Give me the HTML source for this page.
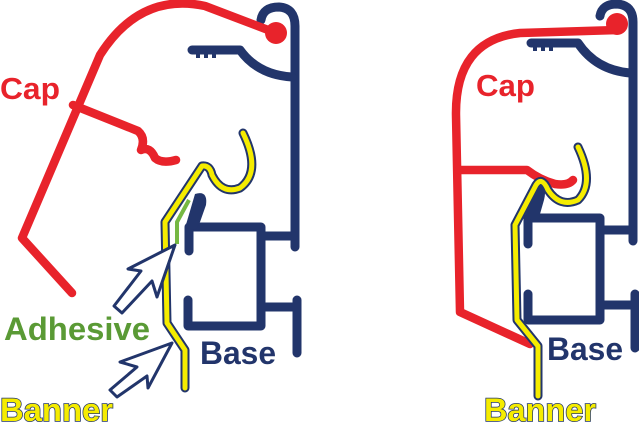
<!DOCTYPE html>
<html><head><style>
html,body{margin:0;padding:0;background:#fff;width:639px;height:424px;overflow:hidden}
svg{display:block}
text{font-family:"Liberation Sans",Arial,sans-serif;font-weight:bold}
</style></head><body>
<svg width="639" height="424" viewBox="0 0 639 424" xmlns="http://www.w3.org/2000/svg">
<g fill="none" stroke-linecap="round" stroke-linejoin="round">
<!-- LEFT BASE -->
<g stroke="#22356b" stroke-width="9">
<path d="M261,20 Q263,7 279,7 Q295,8 295,26 L295,247"/>
<path d="M192,50 L240,50 Q258,75 292,77"/>
<path d="M190,227 L261,227 L261,326 L188,326 L188,300"/>
<path d="M189,227 L189,251"/>
<path d="M261,236 L293,236"/>
<path d="M261,307 L296,307 M297,300 L297,353"/>
</g>
<path d="M185,228 L195,194 Q208,190 206,205 L200,222 L196,230 Z" fill="#22356b"/>
<g fill="#22356b"><rect x="196" y="53" width="4" height="5"/><rect x="204" y="53" width="4" height="5"/><rect x="212" y="53" width="4" height="5"/></g>
<!-- LEFT CAP -->
<g stroke="#e8232b" stroke-width="8.5">
<path d="M276,33 L205,6 Q140,-8 100,55 L22,238 L72,293"/>
<path d="M73,105 L138,131 Q146,138 141,150 Q150,146 155,158 Q162,164 176,160"/>
</g>
<circle cx="276" cy="33" r="11" fill="#e8232b"/>
<!-- LEFT BANNER -->
<path d="M185,388 L185,350 L167,323 L165,222 L202,166 Q210,165 212,175 Q222,195 240,188 Q262,172 243,133" stroke="#22356b" stroke-width="9"/>
<path d="M185,388 L185,350 L167,323 L165,222 L202,166 Q210,165 212,175 Q222,195 240,188 Q262,172 243,133" stroke="#f5ec00" stroke-width="5"/>
<path d="M189,200 L177,222 L177,244" stroke="#76b843" stroke-width="4" stroke-linecap="butt"/>
<!-- ARROWS -->
<g stroke="#22356b" stroke-width="3" fill="#fff">
<path d="M175,245 L128,269 L141,271 L114,306 L122,313 L152,281 L157,297 Z"/>
<path d="M172,343 L120,362 L137,367 L110,390 L117,397 L147,376 L148,388 Z"/>
</g>
<!-- RIGHT BASE -->
<g stroke="#22356b" stroke-width="9">
<path d="M600,16 Q602,4 617,4 Q633,5 633,22 L633,241"/>
<path d="M531,43 L578,43 Q596,70 630,73"/>
<path d="M529,218 L600,218 L600,320 L528,320 L528,294"/>
<path d="M528,218 L528,244"/>
<path d="M600,230 L632,230"/>
<path d="M600,305 L634,305 M635,294 L635,348"/>
</g>
<path d="M524,219 L536,185 Q548,184 544,200 L538,221 Z" fill="#22356b"/>
<g fill="#22356b"><rect x="533" y="46" width="4" height="5"/><rect x="541" y="46" width="4" height="5"/><rect x="549" y="46" width="4" height="5"/></g>
<!-- RIGHT CAP -->
<g stroke="#e8232b" stroke-width="8.5">
<path d="M618,30 L520,33 Q455,40 456,115 L460,312 L530,344"/>
<path d="M459,170 L527,170 Q540,180 555,184 Q568,186 573,180"/>
</g>
<circle cx="617" cy="24" r="11" fill="#e8232b"/>
<!-- RIGHT BANNER -->
<path d="M538,396 L538,346 L517,320 L515,225 L536,185 Q542,176 548,190 Q560,208 578,200 Q595,183 578,147" stroke="#22356b" stroke-width="9"/>
<path d="M538,396 L538,346 L517,320 L515,225 L536,185 Q542,176 548,190 Q560,208 578,200 Q595,183 578,147" stroke="#f5ec00" stroke-width="5"/>
</g>
<!-- LABELS -->
<text x="0" y="99" font-size="31" fill="#e8232b" textLength="60" lengthAdjust="spacingAndGlyphs">Cap</text>
<text x="4" y="340" font-size="32" fill="#5a9a35" textLength="146" lengthAdjust="spacingAndGlyphs">Adhesive</text>
<text x="200" y="364" font-size="32" fill="#22356b" textLength="76" lengthAdjust="spacingAndGlyphs">Base</text>
<text x="0" y="421" font-size="32" fill="#f5ec00" stroke="#22356b" stroke-width="1.5" paint-order="stroke" textLength="113" lengthAdjust="spacingAndGlyphs">Banner</text>
<text x="476" y="96" font-size="31" fill="#e8232b" textLength="59" lengthAdjust="spacingAndGlyphs">Cap</text>
<text x="547" y="360" font-size="32" fill="#22356b" textLength="76" lengthAdjust="spacingAndGlyphs">Base</text>
<text x="484" y="421" font-size="32" fill="#f5ec00" stroke="#22356b" stroke-width="1.5" paint-order="stroke" textLength="112" lengthAdjust="spacingAndGlyphs">Banner</text>
</svg>
</body></html>
